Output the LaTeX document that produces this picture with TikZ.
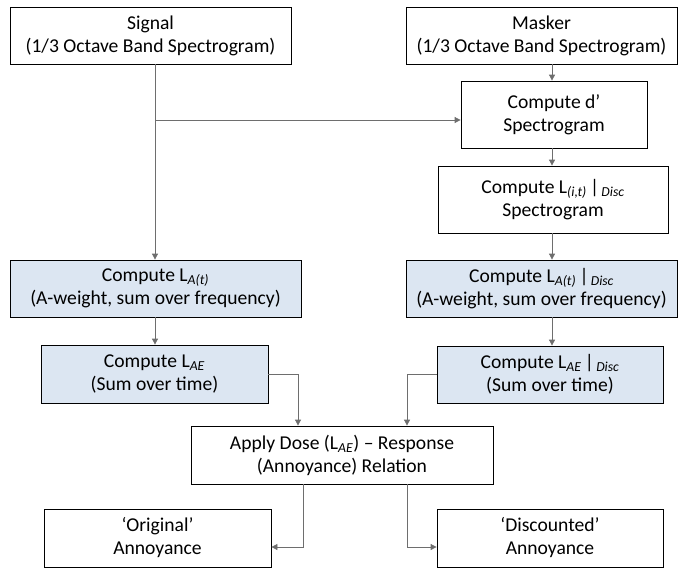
\documentclass[tikz,border=0pt]{standalone}
\usepackage{fontspec}
\setmainfont{Carlito}
\usetikzlibrary{arrows.meta,positioning}
\definecolor{DoseBlue}{RGB}{220,230,242}
\definecolor{LineGray}{RGB}{110,110,110}
\tikzset{
  box/.style     ={rectangle, draw=black, line width=.8pt, fill=white, align=center,
                   font=\fontsize{19.6}{23}\selectfont, inner sep=1pt},
  boxblue/.style ={box, fill=DoseBlue},
  arr/.style     ={-{Triangle[length=6pt,width=6pt]}, draw=LineGray, line width=.8pt},
}
\newcommand{\sub}[1]{\textsubscript{\textit{#1}}}
\begin{document}
\begin{tikzpicture}[x=1pt,y=1pt]
  \useasboundingbox (0,0) rectangle (690,-568);
  % column lines
  \coordinate (lc) at (155,0);
  \coordinate (rc) at (552,0);
  \node[box,minimum width=281pt,minimum height=57pt] (signal) at (150.5,-35.5)
       {Signal\\(1/3 Octave Band Spectrogram)};
  \node[box,minimum width=271pt,minimum height=57pt] (masker) at (541.5,-35.5)
       {Masker\\(1/3 Octave Band Spectrogram)};
  \node[box,minimum width=186pt,minimum height=67pt] (dprime) at (554,-114.5)
       {Compute d’\\Spectrogram};
  \node[box,minimum width=230pt,minimum height=67pt] (lit) at (553,-199.5)
       {Compute L\sub{(i,t)}\,|\sub{\,Disc}\\Spectrogram};
  \node[boxblue,minimum width=291pt,minimum height=57pt] (lat) at (155.5,-288.5)
       {Compute L\sub{A(t)}\\(A-weight, sum over frequency)};
  \node[boxblue,minimum width=271pt,minimum height=57pt] (latd) at (541.5,-288.5)
       {Compute L\sub{A(t)}\,|\sub{\,Disc}\\(A-weight, sum over frequency)};
  \node[boxblue,minimum width=227pt,minimum height=58pt] (lae) at (154.5,-374)
       {Compute L\sub{AE}\\(Sum over time)};
  \node[boxblue,minimum width=226pt,minimum height=57pt] (laed) at (550,-374.5)
       {Compute L\sub{AE}\,|\sub{\,Disc}\\(Sum over time)};
  \node[box,minimum width=302pt,minimum height=58pt] (dose) at (342,-455)
       {Apply Dose (L\sub{AE}) – Response\\(Annoyance) Relation};
  \node[box,minimum width=227pt,minimum height=58pt] (orig) at (157.5,-538)
       {‘Original’\\Annoyance};
  \node[box,minimum width=226pt,minimum height=58pt] (disc) at (550,-538)
       {‘Discounted’\\Annoyance};
  % connectors
  \coordinate (br) at (155,-120);
  \coordinate (ml) at (298,0);
  \coordinate (mr) at (407,0);
  \coordinate (ob) at (303,-547);
  \coordinate (db) at (407,-547);
  \draw[arr] (lc |- signal.south) -- (lc |- lat.north);
  \draw[arr] (br) -- (br -| dprime.west);
  \foreach \a/\b in {masker/dprime,dprime/lit,lit/latd,latd/laed}
    {\draw[arr] (rc |- \a.south) -- (rc |- \b.north);}
  \draw[arr] (lc |- lat.south) -- (lc |- lae.north);
  \draw[arr] (lae.east) -| (ml |- dose.north);
  \draw[arr] (laed.west) -| (mr |- dose.north);
  \draw[arr] (ob |- dose.south) -- (ob) -- (ob -| orig.east);
  \draw[arr] (db |- dose.south) -- (db) -- (db -| disc.west);
\end{tikzpicture}
\end{document}
